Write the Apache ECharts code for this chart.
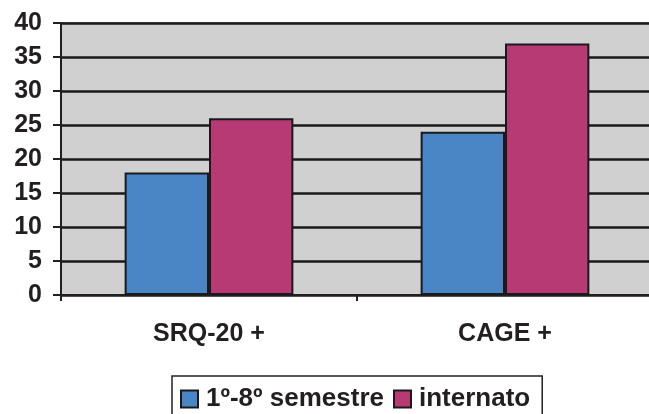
<!DOCTYPE html>
<html><head><meta charset="utf-8">
<script src="https://cdn.jsdelivr.net/npm/echarts@6/dist/echarts.min.js"></script>
<style>html,body{margin:0;padding:0;background:#fff;overflow:hidden}#c{width:658px;height:414px}</style>
</head><body><div id="c"></div>
<script>
const categories = ['SRQ-20 +', 'CAGE +'];
const seriesNames = ['1º-8º semestre', 'internato'];
const semestre = [18, 24];
const internato = [26, 37];
const yTicks = [0, 5, 10, 15, 20, 25, 30, 35, 40];

const chart = echarts.init(document.getElementById('c'));
const font = 'Liberation Sans, Arial, sans-serif';
const ink = '#231f20';
chart.setOption({
  animation: false,
  backgroundColor: '#fff',
  grid: { left: 61, top: 23, width: 592, height: 272, show: true, backgroundColor: '#d0d0d0', borderColor: '#8a8a8a', borderWidth: 2 },
  legend: {
    data: seriesNames, top: 376, left: 172, icon: 'rect',
    borderColor: ink, borderWidth: 1.5, padding: [10, 12, 14, 8],
    itemWidth: 17, itemHeight: 17, itemGap: 9,
    textStyle: { fontFamily: font, fontWeight: 'bold', fontSize: 26, color: ink, padding: [0, 0, 0, 3] }
  },
  xAxis: {
    type: 'category', data: categories,
    axisLine: { lineStyle: { color: ink, width: 2 } },
    axisTick: { show: true, length: 6, lineStyle: { color: ink, width: 2 } },
    axisLabel: { margin: 27, fontFamily: font, fontWeight: 'bold', fontSize: 25, color: ink }
  },
  yAxis: {
    type: 'value', min: 0, max: 40, interval: 5,
    axisLine: { show: true, lineStyle: { color: ink, width: 2 } },
    axisTick: { show: true, length: 8, lineStyle: { color: ink, width: 2 } },
    axisLabel: { margin: 19, fontFamily: font, fontWeight: 'bold', fontSize: 25, color: ink,
      formatter: v => yTicks.includes(v) ? String(v) : '' },
    splitLine: { show: true, lineStyle: { color: '#1a1a1a', width: 2.5 } }
  },
  series: [
    { name: seriesNames[0], type: 'bar', data: semestre, barGap: '0%', barCategoryGap: '43%',
      itemStyle: { color: '#4a86c5', borderColor: '#1a1a1a', borderWidth: 2 } },
    { name: seriesNames[1], type: 'bar', data: internato,
      itemStyle: { color: '#b83a75', borderColor: '#1a1a1a', borderWidth: 2 } }
  ]
});
</script></body></html>
